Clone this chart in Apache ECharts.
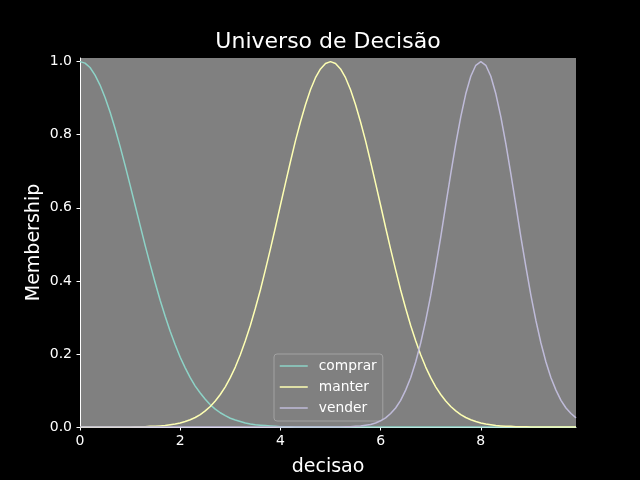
<!DOCTYPE html>
<html>
<head>
<meta charset="utf-8">
<script src="https://cdn.jsdelivr.net/npm/echarts@6/dist/echarts.min.js"></script>
<style>
html,body{margin:0;padding:0;background:#000;}
#chart{width:640px;height:480px;}
</style>
</head>
<body>
<div id="chart"></div>
<script>
// x universe: 0.0 .. 9.9 in steps of 0.1
const xValues = [
0.0,0.1,0.2,0.3,0.4,0.5,0.6,0.7,0.8,0.9,
1.0,1.1,1.2,1.3,1.4,1.5,1.6,1.7,1.8,1.9,
2.0,2.1,2.2,2.3,2.4,2.5,2.6,2.7,2.8,2.9,
3.0,3.1,3.2,3.3,3.4,3.5,3.6,3.7,3.8,3.9,
4.0,4.1,4.2,4.3,4.4,4.5,4.6,4.7,4.8,4.9,
5.0,5.1,5.2,5.3,5.4,5.5,5.6,5.7,5.8,5.9,
6.0,6.1,6.2,6.3,6.4,6.5,6.6,6.7,6.8,6.9,
7.0,7.1,7.2,7.3,7.4,7.5,7.6,7.7,7.8,7.9,
8.0,8.1,8.2,8.3,8.4,8.5,8.6,8.7,8.8,8.9,
9.0,9.1,9.2,9.3,9.4,9.5,9.6,9.7,9.8,9.9];

const comprar = [
1,0.996,0.984,0.963,0.936,0.902,0.862,0.817,0.768,0.716,
0.662,0.607,0.552,0.497,0.445,0.395,0.347,0.303,0.262,0.225,
0.191,0.162,0.135,0.112,0.093,0.076,0.061,0.049,0.039,0.031,
0.024,0.019,0.015,0.011,0.008,0.006,0.005,0.004,0.003,0.002,
0.001,0.001,0.001,0,0,0,0,0,0,0,
0,0,0,0,0,0,0,0,0,0,
0,0,0,0,0,0,0,0,0,0,
0,0,0,0,0,0,0,0,0,0,
0,0,0,0,0,0,0,0,0,0,
0,0,0,0,0,0,0,0,0,0];

const manter = [
0,0,0,0,0,0,0,0,0,0,
0,0.001,0.001,0.001,0.002,0.002,0.003,0.004,0.006,0.008,
0.011,0.015,0.020,0.026,0.034,0.044,0.056,0.071,0.089,0.110,
0.135,0.164,0.198,0.236,0.278,0.325,0.375,0.430,0.487,0.546,
0.607,0.667,0.726,0.783,0.835,0.882,0.923,0.956,0.980,0.995,
1,0.995,0.980,0.956,0.923,0.882,0.835,0.783,0.726,0.667,
0.607,0.546,0.487,0.430,0.375,0.325,0.278,0.236,0.198,0.164,
0.135,0.110,0.089,0.071,0.056,0.044,0.034,0.026,0.020,0.015,
0.011,0.008,0.006,0.004,0.003,0.002,0.002,0.001,0.001,0.001,
0,0,0,0,0,0,0,0,0,0];

const vender = [
0,0,0,0,0,0,0,0,0,0,
0,0,0,0,0,0,0,0,0,0,
0,0,0,0,0,0,0,0,0,0,
0,0,0,0,0,0,0,0,0,0,
0,0,0,0,0,0,0,0,0,0,
0,0,0,0.001,0.001,0.002,0.003,0.005,0.007,0.011,
0.017,0.025,0.037,0.052,0.073,0.101,0.135,0.178,0.230,0.291,
0.360,0.438,0.520,0.607,0.693,0.775,0.849,0.912,0.960,0.990,
1,0.990,0.960,0.912,0.849,0.775,0.693,0.607,0.520,0.438,
0.360,0.291,0.230,0.178,0.135,0.101,0.073,0.052,0.037,0.025];

const seriesNames = ['comprar','manter','vender'];
const xTicks = [0,2,4,6,8];
const yTicks = [0,0.2,0.4,0.6,0.8,1.0];

const pairs = arr => xValues.map((x,i)=>[x,arr[i]]);
const colors = ['#8dd3c7','#feffb3','#bfbbd9'];
const font = 'DejaVu Sans';

const chart = echarts.init(document.getElementById('chart'), null, {renderer:'canvas'});
chart.setOption({
  backgroundColor:'#000000',
  animation:false,
  color:colors,
  title:{
    text:'Universo de Decisão',
    left:323, top:26, textAlign:'center',
    textStyle:{color:'#ffffff', fontFamily:font, fontSize:22, fontWeight:'normal'}
  },
  grid:{
    left:80, right:64, top:58, bottom:53,
    outerBoundsMode:'none', containLabel:false,
    show:true, backgroundColor:'#808080', borderWidth:0
  },
  legend:{
    orient:'vertical',
    left:274, top:354,
    padding:[5,6,6,5],
    itemWidth:28, itemHeight:14, itemGap:7,
    backgroundColor:'rgba(128,128,128,0.8)',
    borderColor:'rgba(170,170,170,0.8)', borderWidth:1, borderRadius:3,
    itemStyle:{opacity:0},
    lineStyle:{width:1.5},
    textStyle:{color:'#ffffff', fontFamily:font, fontSize:13.8, padding:[0,0,0,6]},
    data:seriesNames
  },
  xAxis:{
    type:'value', min:0, max:9.9,
    name:'decisao', nameLocation:'middle', nameGap:31, nameMoveOverlap:false,
    nameTextStyle:{color:'#ffffff', fontFamily:font, fontSize:19},
    axisLine:{show:true, onZero:false, lineStyle:{color:'#ffffff', width:1}},
    axisTick:{show:true, length:3.5, lineStyle:{color:'#ffffff'}, customValues:xTicks},
    axisLabel:{color:'#ffffff', fontFamily:font, fontSize:14, margin:7, customValues:xTicks,
      formatter:v=>String(v)},
    splitLine:{show:false}
  },
  yAxis:{
    type:'value', min:0, max:1.01,
    name:'Membership', nameLocation:'middle', nameGap:36, nameMoveOverlap:false,
    nameTextStyle:{color:'#ffffff', fontFamily:font, fontSize:19},
    axisLine:{show:true, onZero:false, lineStyle:{color:'#ffffff', width:1}},
    axisTick:{show:true, length:3.5, lineStyle:{color:'#ffffff'}, customValues:yTicks},
    axisLabel:{color:'#ffffff', fontFamily:font, fontSize:14, margin:8, customValues:yTicks,
      formatter:v=>v.toFixed(1)},
    splitLine:{show:false}
  },
  series:[
    {name:seriesNames[0], type:'line', data:pairs(comprar), symbol:'none', lineStyle:{width:1.5}, z:2},
    {name:seriesNames[1], type:'line', data:pairs(manter), symbol:'none', lineStyle:{width:1.5}, z:3},
    {name:seriesNames[2], type:'line', data:pairs(vender), symbol:'none', lineStyle:{width:1.5}, z:4}
  ]
});
</script>
</body>
</html>
